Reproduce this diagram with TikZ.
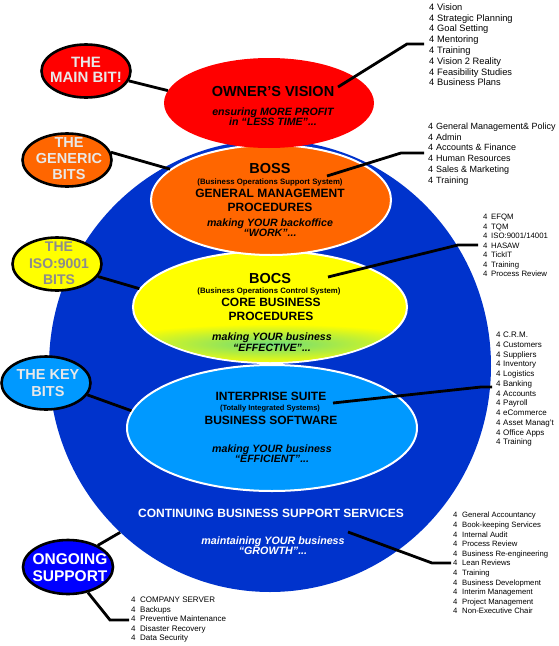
\documentclass[tikz,border=0pt]{standalone}
\usepackage{fontspec}
\setmainfont{Liberation Sans}
\usetikzlibrary{shapes.geometric}
\definecolor{cred}{RGB}{255,0,0}
\definecolor{corange}{RGB}{255,102,0}
\definecolor{cyellow}{RGB}{255,255,0}
\definecolor{clblue}{RGB}{0,153,255}
\definecolor{cblue}{RGB}{0,51,204}
\definecolor{cdblue}{RGB}{0,0,255}
\definecolor{lgray}{RGB}{232,232,232}
\definecolor{mgray}{RGB}{140,140,140}
\definecolor{glow}{RGB}{110,220,120}
\newcommand{\myfs}[1]{\fontsize{#1}{#1}\selectfont}
\begin{document}
\begin{tikzpicture}[x=1pt,y=-1pt,
  big/.style={ellipse, inner sep=0pt, draw=white, line width=2pt},
  lab/.style={ellipse, inner sep=0pt, draw=black, line width=2.6pt, minimum width=89pt, minimum height=53pt},
  labtxt/.style={anchor=base, inner sep=0pt, font=\myfs{14.5}\bfseries},
  conn/.style={line width=2.8pt, black},
  txt/.style={anchor=base, inner sep=0pt},
  head/.style={txt, font=\myfs{14.5}\bfseries},
  mid/.style={txt, font=\myfs{12}\bfseries},
  sub/.style={txt, font=\myfs{7.8}\bfseries},
  ital/.style={txt, font=\myfs{10.6}\bfseries\itshape},
  li/.style={anchor=base west, inner sep=0pt}
]
\useasboundingbox (0,0) rectangle (558,646);

% big blue circle
\node[ellipse, inner sep=0pt, fill=cblue, minimum width=442pt, minimum height=452pt] (circle) at (270,366) {};

% inner ellipses
\node[big, fill=clblue, minimum width=290pt, minimum height=126pt] (suite) at (272,428) {};
\node[big, fill=cyellow, minimum width=274pt, minimum height=112pt] (bocs) at (270,307) {};
\begin{scope}
  \clip (270,307) ellipse [x radius=136, y radius=55];
  \shade[inner color=glow, outer color=cyellow] (271,344) ellipse [x radius=170, y radius=20];
\end{scope}
\node[big, fill=corange, minimum width=240pt, minimum height=110pt] (boss) at (271,200) {};
\node[ellipse, inner sep=0pt, fill=cred, minimum width=210pt, minimum height=90pt] (owner) at (269,103) {};

% texts in ellipses
\node[head] (t-owner) at (273,96) {OWNER’S VISION};
\node[ital] (t-owner2) at (273,115.5) {ensuring MORE PROFIT};
\node[ital] (t-owner3) at (273,125.5) {in “LESS TIME”...};

\node[head] (t-boss) at (270,173) {BOSS};
\node[sub] (t-boss2) at (270,184.8) {(Business Operations Support System)};
\node[mid] (t-boss3) at (270,197.5) {GENERAL MANAGEMENT};
\node[mid] (t-boss4) at (270,211.5) {PROCEDURES};
\node[ital] (t-boss5) at (270,226.8) {making YOUR backoffice};
\node[ital] (t-boss6) at (270,236.8) {“WORK”...};

\node[head] (t-bocs) at (270,283) {BOCS};
\node[sub] (t-bocs2) at (269,293.8) {(Business Operations Control System)};
\node[mid] (t-bocs3) at (271,306.3) {CORE BUSINESS};
\node[mid] (t-bocs4) at (271,320.3) {PROCEDURES};
\node[ital] (t-bocs5) at (272,340.8) {making YOUR business};
\node[ital] (t-bocs6) at (272,351.8) {“EFFECTIVE”...};

\node[mid] (t-suite) at (271,400.3) {INTERPRISE SUITE};
\node[sub, font=\myfs{7.5}\bfseries] (t-suite2) at (270,410.8) {(Totally Integrated Systems)};
\node[mid] (t-suite3) at (271,424.3) {BUSINESS SOFTWARE};
\node[ital] (t-suite4) at (272,452.8) {making YOUR business};
\node[ital] (t-suite5) at (272,462.8) {“EFFICIENT”...};

\node[mid, text=white] (t-cont) at (271,517.3) {CONTINUING BUSINESS SUPPORT SERVICES};
\node[ital, text=white, font=\myfs{10.7}\bfseries\itshape] (t-cont2) at (273,544.8) {maintaining YOUR business};
\node[ital, text=white, font=\myfs{10.7}\bfseries\itshape] (t-cont3) at (273,554.8) {“GROWTH”...};

% left labels
\node[lab, fill=cred] (mainbit) at (86,71) {};
\node[lab, fill=corange] (generic) at (67,160) {};
\node[lab, fill=cyellow] (iso) at (57,264) {};
\node[lab, fill=clblue] (key) at (46,383) {};
\node[lab, fill=cdblue, minimum width=90pt, minimum height=54pt] (ongoing) at (68,567) {};

\node[labtxt, text=lgray, font=\myfs{15}\bfseries] (l-main1) at (86,67.5) {THE};
\node[labtxt, text=lgray, font=\myfs{15}\bfseries] (l-main2) at (86,82.5) {MAIN BIT!};
\node[labtxt, text=lgray] (l-gen1) at (69,147) {THE};
\node[labtxt, text=lgray] (l-gen2) at (69,163) {GENERIC};
\node[labtxt, text=lgray] (l-gen3) at (69,179) {BITS};
\node[labtxt, text=mgray, font=\myfs{14}\bfseries] (l-iso1) at (59,251) {THE};
\node[labtxt, text=mgray, font=\myfs{14}\bfseries] (l-iso2) at (59,268) {ISO:9001};
\node[labtxt, text=mgray, font=\myfs{14}\bfseries] (l-iso3) at (59,284) {BITS};
\node[labtxt, text=lgray] (l-key1) at (48,379) {THE KEY};
\node[labtxt, text=lgray] (l-key2) at (48,396) {BITS};
\node[labtxt, text=white, font=\myfs{15.5}\bfseries] (l-ong1) at (70,564.5) {ONGOING};
\node[labtxt, text=white, font=\myfs{15.5}\bfseries] (l-ong2) at (70,581.5) {SUPPORT};

% left connectors
\draw[conn] (mainbit.-13) -- (owner.173);
\draw[conn] (generic.10) -- (boss.163);
\draw[conn] (iso.-17) -- (bocs.172);
\draw[conn] (key.-16) -- (suite.173);
\draw[conn] (ongoing.36) -- (circle.-132);
\coordinate (ong-end) at (129,620);
\draw[conn] (ongoing.-52) -- ([xshift=-19pt]ong-end) -- (ong-end);

% right connectors
\coordinate (v1) at (338,87);
\coordinate (v3) at (424,44);
\draw[conn] (v1) -- ([xshift=-17pt]v3) -- (v3);
\coordinate (b1) at (327,176);
\coordinate (b3) at (424,153);
\draw[conn] (b1) -- ([xshift=-23pt]b3) -- (b3);
\coordinate (c1) at (328,277);
\coordinate (c3) at (478,245);
\draw[conn] (c1) -- ([xshift=-20pt]c3) -- (c3);
\coordinate (s1) at (333,403);
\coordinate (s3) at (492,387);
\draw[conn] (s1) -- ([xshift=-11pt]s3) -- (s3);
\coordinate (g1) at (348,532);
\coordinate (g3) at (451,563);
\draw[conn] (g1) -- ([xshift=-19pt]g3) -- (g3);

% lists
\foreach \t [count=\i] in {Vision,Strategic Planning,Goal Setting,Mentoring,Training,Vision 2 Reality,Feasibility Studies,Business Plans}
  \node[li, font=\myfs{9.3}, name=la\i] at (429,{10.2+10.8*(\i-1)}) {\makebox[8pt][l]{4}\t};
\foreach \t [count=\i] in {General Management\& Policy,Admin,Accounts \& Finance,Human Resources,Sales \& Marketing,Training}
  \node[li, font=\myfs{9}, name=lb\i] at (428,{129.2+10.8*(\i-1)}) {\makebox[8pt][l]{4}\t};
\foreach \t [count=\i] in {EFQM,TQM,ISO:9001/14001,HASAW,TickIT,Training,Process Review}
  \node[li, font=\myfs{7.8}, name=lc\i] at (483,{219.7+9.5*(\i-1)}) {\makebox[8pt][l]{4}\t};
\foreach \t [count=\i] in {C.R.M.,Customers,Suppliers,Inventory,Logistics,Banking,Accounts,Payroll,eCommerce,Asset Manag't,Office Apps,Training}
  \node[li, font=\myfs{8}, name=ld\i] at (496,{337.8+9.73*(\i-1)}) {\makebox[7pt][l]{4}\t};
\foreach \t [count=\i] in {General Accountancy,Book-keeping Services,Internal Audit,Process Review,Business Re-engineering,Lean Reviews,Training,Business Development,Interim Management,Project Management,Non-Executive Chair}
  \node[li, font=\myfs{7.7}, name=le\i] at (453,{517.8+9.6*(\i-1)}) {\makebox[9pt][l]{4}\t};
\foreach \t [count=\i] in {COMPANY SERVER,Backups,Preventive Maintenance,Disaster Recovery,Data Security}
  \node[li, font=\myfs{8}, name=lf\i] at (131,{602.8+9.5*(\i-1)}) {\makebox[9pt][l]{4}\t};
\end{tikzpicture}
\end{document}
